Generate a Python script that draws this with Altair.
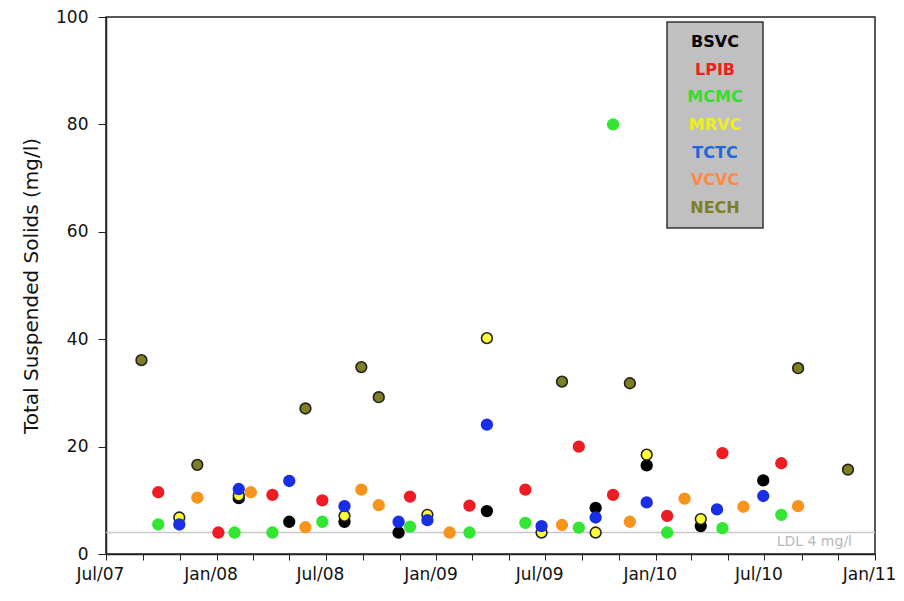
import altair as alt
import pandas as pd

series = ["BSVC", "LPIB", "MCMC", "MRVC", "TCTC", "VCVC", "NECH"]
point_colors = ["#000000", "#ee1c24", "#33e633", "#ffff33", "#1a2ee6", "#f7941d", "#7f7f1f"]
edge_colors = ["#000000", "#ee1c24", "#33e633", "#222222", "#1a2ee6", "#f7941d", "#222222"]
legend_colors = ["#000000", "#ee2020", "#33dd33", "#eeee22", "#2266dd", "#ff8844", "#7f7f1f"]

bsvc_dates = ["2008-02-07", "2008-05-01", "2008-08-01", "2008-10-30", "2009-03-26", "2009-09-23", "2009-12-17", "2010-03-17", "2010-06-29"]
bsvc_vals = [10.4, 6.0, 6.0, 4.0, 8.0, 8.6, 16.5, 5.2, 13.7]

lpib_dates = ["2007-09-26", "2008-01-04", "2008-04-03", "2008-06-25", "2008-11-18", "2009-02-25", "2009-05-29", "2009-08-26", "2009-10-22", "2010-01-20", "2010-04-22", "2010-07-29"]
lpib_vals = [11.5, 4.0, 11.0, 10.0, 10.7, 9.0, 12.0, 20.0, 11.0, 7.1, 18.8, 16.9]

mcmc_dates = ["2007-09-26", "2008-01-31", "2008-04-03", "2008-06-25", "2008-11-18", "2009-02-25", "2009-05-29", "2009-08-26", "2009-10-22", "2010-01-20", "2010-04-22", "2010-07-29"]
mcmc_vals = [5.5, 4.0, 4.0, 6.0, 5.1, 4.0, 5.8, 4.9, 80.0, 4.0, 4.8, 7.3]

mrvc_dates = ["2007-10-31", "2008-02-07", "2008-08-01", "2008-12-17", "2009-03-26", "2009-06-25", "2009-09-23", "2009-12-17", "2010-03-17"]
mrvc_vals = [6.8, 10.9, 7.1, 7.3, 40.2, 4.0, 4.0, 18.5, 6.5]

tctc_dates = ["2007-10-31", "2008-02-07", "2008-05-01", "2008-08-01", "2008-10-30", "2008-12-17", "2009-03-26", "2009-06-25", "2009-09-23", "2009-12-17", "2010-04-13", "2010-06-29"]
tctc_vals = [5.5, 12.1, 13.6, 8.9, 6.0, 6.3, 24.1, 5.2, 6.8, 9.6, 8.3, 10.8]

vcvc_dates = ["2007-11-30", "2008-02-27", "2008-05-28", "2008-08-29", "2008-09-27", "2009-01-23", "2009-07-29", "2009-11-19", "2010-02-18", "2010-05-27", "2010-08-26"]
vcvc_vals = [10.5, 11.5, 5.0, 12.0, 9.1, 4.0, 5.4, 6.0, 10.3, 8.8, 8.9]

nech_dates = ["2007-08-29", "2007-11-30", "2008-05-28", "2008-08-29", "2008-09-27", "2009-07-29", "2009-11-19", "2010-08-26", "2010-11-17"]
nech_vals = [36.1, 16.6, 27.1, 34.8, 29.2, 32.1, 31.8, 34.6, 15.7]

ldl_value = 4
ldl_label = "LDL 4 mg/l"

all_dates = [bsvc_dates, lpib_dates, mcmc_dates, mrvc_dates, tctc_dates, vcvc_dates, nech_dates]
all_vals = [bsvc_vals, lpib_vals, mcmc_vals, mrvc_vals, tctc_vals, vcvc_vals, nech_vals]

rows = []
for i, (s, ds, vs) in enumerate(zip(series, all_dates, all_vals)):
    for d, v in zip(ds, vs):
        rows.append({"series": s, "order": i, "date": d, "tss": v})
df = pd.DataFrame(rows)

legend_df = pd.DataFrame({"series": series, "rank": list(range(len(series)))})

# tick positions every 2 months, labels on Jan/Jul
tick_values = []
y, m = 2007, 7
while (y, m) <= (2011, 1):
    tick_values.append(alt.DateTime(year=y, month=m, date=1, utc=True))
    m += 2
    if m > 12:
        m -= 12
        y += 1

FONT = "DejaVu Sans"
W, H = 769, 537

x_enc = alt.X(
    "date:T",
    scale=alt.Scale(
        type="utc",
        domain=[alt.DateTime(year=2007, month=7, date=1, utc=True),
                alt.DateTime(year=2011, month=1, date=1, utc=True)],
        nice=False,
    ),
    axis=alt.Axis(
        values=tick_values,
        labelExpr="utcmonth(datum.value) % 6 == 0 ? utcFormat(datum.value, '%b/%y') : ''",
        title=None,
        grid=False,
        labelOverlap=False,
        labelFlush=False,
        labelOffset=-6,
        tickSize=6,
        labelPadding=6,
        labelFontSize=17,
        labelFont=FONT,
        labelColor="#111111",
        tickColor="#222222",
        domainColor="#222222",
        domainWidth=1.5,
    ),
)

y_enc = alt.Y(
    "tss:Q",
    scale=alt.Scale(domain=[0, 100], nice=False),
    axis=alt.Axis(
        values=[0, 20, 40, 60, 80, 100],
        title="Total Suspended Solids (mg/l)",
        titleFont=FONT,
        titleFontSize=20,
        titleFontWeight="normal",
        titleColor="#111111",
        titleX=-75,
        titleY=H / 2,
        titleAngle=-90,
        titleBaseline="middle",
        titleAlign="center",
        grid=False,
        tickSize=8,
        labelPadding=10,
        labelFontSize=17,
        labelFont=FONT,
        labelColor="#111111",
        tickColor="#222222",
        domainColor="#222222",
        domainWidth=1.5,
    ),
)

points = alt.Chart(df).mark_circle(size=115, opacity=1, strokeWidth=1.6).encode(
    x=x_enc,
    y=y_enc,
    fill=alt.Fill("series:N", scale=alt.Scale(domain=series, range=point_colors), legend=None),
    stroke=alt.Stroke("series:N", scale=alt.Scale(domain=series, range=edge_colors), legend=None),
    order=alt.Order("order:Q"),
)

ldl_rule = alt.Chart(pd.DataFrame({"v": [ldl_value]})).mark_rule(
    color="#c8c8c8", strokeWidth=1.5
).encode(y=alt.Y("v:Q", scale=alt.Scale(domain=[0, 100], nice=False)))

ldl_text = alt.Chart(pd.DataFrame({"v": [ldl_value], "t": [ldl_label]})).mark_text(
    align="right", baseline="top", dy=2, fontSize=14, font=FONT, color="#b8b8b8"
).encode(
    x=alt.value(746),
    y=alt.Y("v:Q", scale=alt.Scale(domain=[0, 100], nice=False)),
    text="t:N",
)

main = alt.layer(ldl_rule, ldl_text, points)

legend_box = alt.Chart(pd.DataFrame({"a": [0]})).mark_rect(
    fill="#c0c0c0", stroke="#333333", strokeWidth=1.5
).encode(
    x=alt.value(561), x2=alt.value(657), y=alt.value(5), y2=alt.value(211)
)

legend_text = alt.Chart(legend_df).mark_text(
    fontSize=16, fontWeight="bold", font=FONT, align="center", baseline="middle"
).encode(
    x=alt.value(609),
    y=alt.Y("rank:Q", scale=alt.Scale(domain=[0, 6], range=[25, 191]), axis=None),
    text="series:N",
    color=alt.Color("series:N", scale=alt.Scale(domain=series, range=legend_colors), legend=None),
)

chart = alt.layer(main, legend_box, legend_text).resolve_scale(
    y="independent", color="independent"
).properties(
    width=W,
    height=H,
    padding={"left": 98, "top": 9, "right": 20, "bottom": 38},
    autosize=alt.AutoSizeParams(type="none"),
    background="white",
).configure_view(
    stroke="#222222", strokeWidth=1.5
)

chart.save("out.html", embed_options={"renderer": "svg", "actions": False})
